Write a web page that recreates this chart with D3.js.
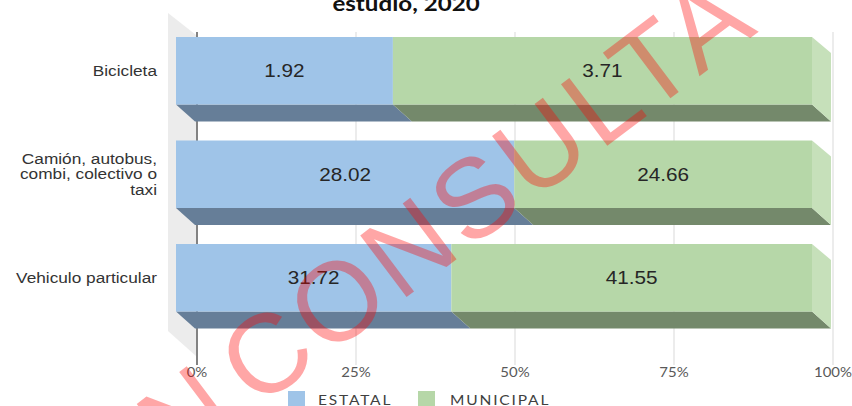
<!DOCTYPE html>
<html>
<head>
<meta charset="utf-8">
<script src="https://cdn.jsdelivr.net/npm/d3@7/dist/d3.min.js"></script>
<style>
  html, body { margin: 0; padding: 0; background: #fff; }
  svg { display: block; }
</style>
</head>
<body>
<svg id="chart" width="852" height="406"></svg>
<script>
// Modo de transporte por tipo de sostenimiento (porcentaje)
const categories = ["Bicicleta", "Camión, autobus, combi, colectivo o taxi", "Vehiculo particular"];
const categoryLines = [["Bicicleta"], ["Camión, autobus,", "combi, colectivo o", "taxi"], ["Vehiculo particular"]];
const seriesNames = ["ESTATAL", "MUNICIPAL"];
const estatal = [1.92, 28.02, 31.72];
const municipal = [3.71, 24.66, 41.55];
const tickValues = [0, 25, 50, 75, 100];
const tickLabels = ["0%", "25%", "50%", "75%", "100%"];
const titleText = "estudio, 2020";
const watermarkText = "EN CONSULTA";

const colors = {
  front: ["#9fc4e8", "#b6d7a8"],
  bottom: ["#667e98", "#74896b"],
  side: ["#b9d3ee", "#c6e0ba"]
};

const svg = d3.select("#chart");
const SX = 1.15;            // horizontal text stretch
const depth = { dx: 19, dy: 17 };
const backShift = 21;

const x = d3.scaleLinear().domain([0, 100]).range([176, 812]);
const y = d3.scaleBand().domain(categories).range([37, 311.5]).paddingInner(0.348).paddingOuter(0);

function stretchedText(parent, px, py, str, opts) {
  const g = parent.append("g").attr("transform", `translate(${px},${py}) scale(${SX},1)`);
  const t = g.append("text").text(str)
    .attr("text-anchor", opts.anchor || "start")
    .attr("font-family", opts.family || "'Liberation Sans', Arial, sans-serif")
    .attr("font-size", opts.size)
    .attr("fill", opts.fill || "#333");
  if (opts.weight) t.attr("font-weight", opts.weight);
  if (opts.spacing) t.attr("letter-spacing", opts.spacing);
  return t;
}

// Title (last line)
stretchedText(svg, 406, 11, titleText, { anchor: "middle", family: "Lato, sans-serif", size: 21, weight: 700, fill: "#111" });

// Left side wall
svg.append("polygon")
  .attr("points", [[168, 13], [196, 35], [196, 356], [168, 331]].map(p => p.join(",")).join(" "))
  .attr("fill", "#ececec");

// Gridlines on the back wall
svg.append("g").selectAll("line").data(tickValues).join("line")
  .attr("x1", d => x(d) + backShift).attr("x2", d => x(d) + backShift)
  .attr("y1", 32).attr("y2", 365)
  .attr("stroke", d => d === 0 ? "#404040" : "#d9d9d9")
  .attr("stroke-width", d => d === 0 ? 1.3 : 1);

// Stacked percentages
const rows = categories.map((c, i) => {
  const total = estatal[i] + municipal[i];
  const vals = [estatal[i], municipal[i]];
  let acc = 0;
  return vals.map((v, s) => {
    const p0 = acc; acc += v / total * 100;
    return { cat: c, s, value: v, p0, p1: acc, i };
  });
});

const bars = svg.append("g");
rows.forEach(segs => {
  const g = bars.append("g");
  const yt = y(segs[0].cat), yb = yt + y.bandwidth();
  // bottom faces
  segs.forEach(d => {
    const x0 = x(d.p0), x1 = x(d.p1);
    g.append("polygon")
      .attr("points", [[x0, yb], [x1, yb], [x1 + depth.dx, yb + depth.dy], [x0 + depth.dx, yb + depth.dy]].map(p => p.join(",")).join(" "))
      .attr("fill", colors.bottom[d.s]);
  });
  // end face of the last segment
  const last = segs[segs.length - 1];
  const xe = x(last.p1);
  g.append("polygon")
    .attr("points", [[xe, yt], [xe + depth.dx, yt + depth.dy - 1], [xe + depth.dx, yb + depth.dy], [xe, yb]].map(p => p.join(",")).join(" "))
    .attr("fill", colors.side[last.s]);
  // front faces
  segs.forEach(d => {
    g.append("rect")
      .attr("x", x(d.p0)).attr("y", yt)
      .attr("width", x(d.p1) - x(d.p0)).attr("height", y.bandwidth())
      .attr("fill", colors.front[d.s]);
  });
  // value labels
  segs.forEach(d => {
    stretchedText(g, (x(d.p0) + x(d.p1)) / 2, yt + y.bandwidth() / 2 + 6.5, d.value.toFixed(2),
      { anchor: "middle", size: 18, fill: "#262626" });
  });
});

// Category labels
categories.forEach((c, i) => {
  const lines = categoryLines[i];
  const cy = y(c) + y.bandwidth() / 2;
  const lh = 15.5;
  lines.forEach((ln, k) => {
    const ly = cy + (k - (lines.length - 1) / 2) * lh + 5;
    stretchedText(svg, 157, ly, ln, { anchor: "end", size: 15, fill: "#333" });
  });
});

// Axis tick labels
tickValues.forEach((v, k) => {
  stretchedText(svg, x(v) + backShift, 377, tickLabels[k], { anchor: "middle", family: "Lato, sans-serif", size: 13, fill: "#595959" });
});

// Legend
const legendItems = [{ name: seriesNames[0], sx: 288, tx: 318 }, { name: seriesNames[1], sx: 418, tx: 450 }];
legendItems.forEach((d, s) => {
  svg.append("rect").attr("x", d.sx).attr("y", 391).attr("width", 17).attr("height", 17).attr("fill", colors.front[s]);
  stretchedText(svg, d.tx, 405, d.name, { family: "Lato, sans-serif", size: 13.5, fill: "#404040", spacing: 1.6 });
});

// Watermark
svg.append("text")
  .attr("transform", "translate(112,519) rotate(-37)")
  .attr("font-family", "'Liberation Sans', Arial, sans-serif")
  .attr("font-size", 112)
  .attr("letter-spacing", 5)
  .attr("word-spacing", -20)
  .attr("fill", "rgba(255,0,0,0.35)")
  .text(watermarkText);
</script>
</body>
</html>
